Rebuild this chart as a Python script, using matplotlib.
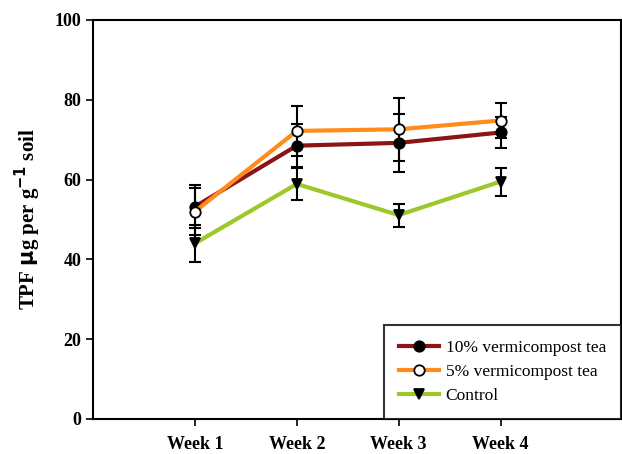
import numpy as np
import matplotlib
matplotlib.use("Agg")
import matplotlib.pyplot as plt

plt.rcParams['font.family'] = ['Liberation Serif', 'DejaVu Serif']

# data
weeks = ['Week 1', 'Week 2', 'Week 3', 'Week 4']
vc10 = [53.2, 68.5, 69.2, 71.8]
vc10_err = [5.4, 5.4, 7.2, 4.0]
vc5 = [52.0, 72.2, 72.6, 74.8]
vc5_err = [6.0, 6.3, 7.9, 4.5]
control = [44.0, 58.9, 51.1, 59.5]
control_err = [4.6, 4.0, 2.9, 3.5]

x = np.arange(1, len(weeks) + 1)

fig = plt.figure(figsize=(6.22, 4.54), dpi=100)
ax = fig.add_axes([0.1495, 0.0771, 0.8485, 0.8789])

series = [
    (vc10, vc10_err, '#8B1414', 'o', 'black', '10% vermicompost tea'),
    (vc5, vc5_err, '#FF8C1A', 'o', 'white', '5% vermicompost tea'),
    (control, control_err, '#9CC82A', 'v', 'black', 'Control'),
]

for y, err, col, mk, mfc, lab in series:
    ax.errorbar(x, y, yerr=err, fmt='none', ecolor='black', elinewidth=1.5,
                capsize=4, capthick=1.5, zorder=2)
    ax.plot(x, y, color=col, lw=3, marker=mk, markersize=7.5, markerfacecolor=mfc,
            markeredgecolor='black', markeredgewidth=1.3, label=lab, zorder=3)

ax.set_xlim(0, 5.18)
ax.set_ylim(0, 100)
ax.set_xticks(x)
ax.set_xticklabels(weeks, fontweight='bold', fontsize=13)
ax.set_yticks([0, 20, 40, 60, 80, 100])
ax.set_yticklabels(['0', '20', '40', '60', '80', '100'], fontweight='bold', fontsize=13)
ax.tick_params(direction='out', length=5, width=1.2, top=False, right=False)
ax.tick_params(axis='x', pad=7)
for s in ax.spines.values():
    s.set_linewidth(1.5)

ax.set_ylabel(r'TPF $\mathbf{\mu}$g per g$^{\mathbf{-1}}$ soil', fontweight='bold', fontsize=15, labelpad=8)

leg = ax.legend(loc='lower right', fontsize=12.5, frameon=True, fancybox=False,
                borderaxespad=0, handlelength=2.3, handletextpad=0.4,
                borderpad=0.85, labelspacing=0.45)
leg.get_frame().set_edgecolor('black')
leg.get_frame().set_linewidth(1.5)

fig.savefig('out.png', dpi=100)
